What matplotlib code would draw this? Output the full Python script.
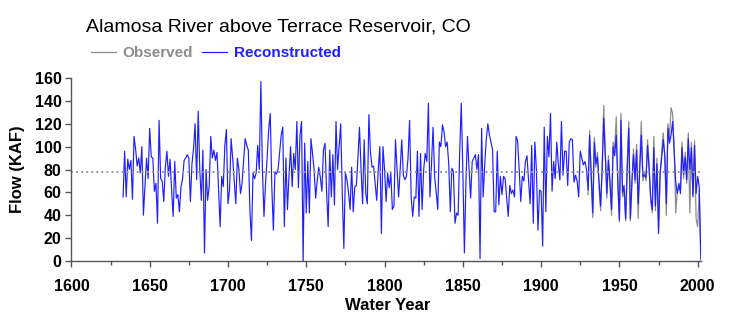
import numpy as np
import matplotlib
matplotlib.use("Agg")
import matplotlib.pyplot as plt
from matplotlib.ticker import MultipleLocator

plt.rcParams['font.family'] = ['Liberation Sans', 'DejaVu Sans']

# Reconstructed flow (KAF), water years 1633-2002
recon_start = 1633
recon_1633_1699 = [56, 96, 56, 89, 80, 88, 54,
                   109, 98, 83, 90, 77, 100, 40, 66, 90, 72,
                   116, 91, 90, 61, 68, 33, 123, 72, 70, 52,
                   82, 96, 74, 89, 62, 39, 87, 55, 58, 43,
                   65, 72, 88, 90, 93, 90, 52, 85, 98, 120,
                   71, 131, 80, 53, 97, 7, 80, 53, 65, 109,
                   90, 97, 88, 95, 62, 30, 74, 65, 101, 115]
recon_1700_1799 = [50, 62, 107, 90, 70, 50, 90, 80, 59, 68,
                   88, 107, 101, 97, 45, 18, 77, 72, 77, 101,
                   80, 157, 80, 39, 68, 90, 115, 129, 65, 27,
                   78, 76, 80, 95, 110, 117, 30, 90, 45, 75,
                   100, 65, 94, 80, 122, 64, 110, 122, 0, 103,
                   42, 87, 42, 107, 94, 80, 55, 70, 82, 73,
                   61, 97, 103, 60, 30, 97, 56, 93, 49, 122,
                   80, 100, 120, 60, 11, 77, 71, 60, 45, 82,
                   43, 65, 66, 90, 117, 80, 50, 106, 59, 50,
                   128, 95, 82, 83, 68, 53, 80, 100, 24, 100]
recon_1800_1899 = [80, 52, 77, 64, 77, 45, 48, 106, 80, 56,
                   80, 106, 75, 71, 74, 90, 123, 56, 39, 56,
                   55, 96, 39, 94, 45, 80, 94, 87, 138, 56,
                   85, 117, 74, 60, 45, 104, 100, 119, 113, 100,
                   104, 85, 43, 81, 78, 33, 42, 40, 95, 138,
                   80, 7, 70, 109, 80, 55, 87, 90, 93, 80,
                   93, 2, 116, 56, 85, 107, 120, 110, 104, 97,
                   43, 43, 96, 49, 74, 58, 74, 72, 56, 39,
                   66, 59, 62, 56, 109, 105, 80, 52, 74, 70,
                   87, 92, 70, 50, 101, 33, 104, 80, 27, 62]
recon_1900_2002 = [61, 13, 117, 43, 109, 91, 129, 61, 87, 72,
                   104, 85, 71, 122, 75, 96, 96, 66, 104, 107,
                   106, 69, 75, 70, 56, 96, 90, 84, 87, 80,
                   62, 110, 75, 42, 104, 85, 91, 70, 48, 80,
                   125, 91, 59, 88, 70, 45, 100, 92, 110, 70,
                   36, 123, 60, 66, 37, 80, 116, 37, 70, 93,
                   71, 97, 50, 80, 110, 74, 75, 73, 101, 80,
                   56, 45, 99, 48, 85, 24, 77, 90, 106, 93,
                   50, 116, 103, 110, 122, 95, 69, 59, 68, 59,
                   99, 76, 91, 71, 107, 80, 99, 56, 101, 59,
                   74, 65, 1]

# Observed (gaged) flow (KAF)
obs_start = 1930
observed = [58, 114, 72, 38, 108, 82, 95, 66, 44, 84,
            136, 96, 55, 92, 66, 40, 104, 98, 126, 66,
            34, 129, 56, 62, 35, 84, 122, 35, 66, 98,
            68, 102, 37, 86, 122, 70, 78, 70, 106, 84,
            52, 42, 109, 44, 90, 28, 74, 95, 112, 90,
            40, 120, 108, 134, 129, 100, 42, 62, 64, 62,
            104, 72, 95, 68, 112, 42, 104, 58, 105, 37,
            30, 62, 5]

long_term_mean = 77.5

reconstructed = recon_1633_1699 + recon_1700_1799 + recon_1800_1899 + recon_1900_2002
recon_years = np.arange(recon_start, recon_start + len(reconstructed))
obs_years = np.arange(obs_start, obs_start + len(observed))

W, H = 742, 327
fig = plt.figure(figsize=(W / 100, H / 100), dpi=100)
ax = fig.add_axes([71.4 / W, 1 - 261 / H, (700.8 - 71.4) / W, 183 / H])

ax.plot(obs_years, observed, color='#8c8c8c', lw=0.9, label='Observed')
ax.plot(recon_years, reconstructed, color='#1f1fff', lw=0.85, label='Reconstructed')
ax.axhline(long_term_mean, color='#999999', lw=1.4, ls=(0, (1, 1.6)))

ax.set_xlim(1600, 2002)
ax.set_ylim(0, 160)
ax.xaxis.set_major_locator(MultipleLocator(50))
ax.xaxis.set_minor_locator(MultipleLocator(25))
ax.yaxis.set_major_locator(MultipleLocator(20))

for s in ['top', 'right']:
    ax.spines[s].set_visible(False)
for s in ['left', 'bottom']:
    ax.spines[s].set_color('#555555')
    ax.spines[s].set_linewidth(1.0)

ax.tick_params(which='both', direction='out', color='#555555', width=1.0)
ax.tick_params(which='major', length=4, labelsize=11.5)
ax.tick_params(which='minor', length=3)
ax.tick_params(axis='x', pad=9)
ax.tick_params(axis='y', pad=3)
for lab in ax.get_xticklabels() + ax.get_yticklabels():
    lab.set_fontweight('bold')

fig.text(388 / W, 1 - 305 / H, 'Water Year', fontsize=12, fontweight='bold',
         ha='center', va='center')
fig.text(18 / W, 1 - 169.5 / H, 'Flow (KAF)', fontsize=12, fontweight='bold',
         ha='center', va='center', rotation=90)

fig.text(86 / W, 1 - 32 / H, 'Alamosa River above Terrace Reservoir, CO',
         fontsize=14, va='baseline', ha='left')

leg = fig.legend(loc='center left', bbox_to_anchor=(77 / W, 1 - 53 / H), ncol=2,
                 frameon=False, handlelength=1.65, handletextpad=0.45,
                 columnspacing=0.55, prop={'weight': 'bold', 'size': 11})
for txt, c in zip(leg.get_texts(), ['#8c8c8c', '#1f1fff']):
    txt.set_color(c)

fig.savefig('out.png', dpi=100)
